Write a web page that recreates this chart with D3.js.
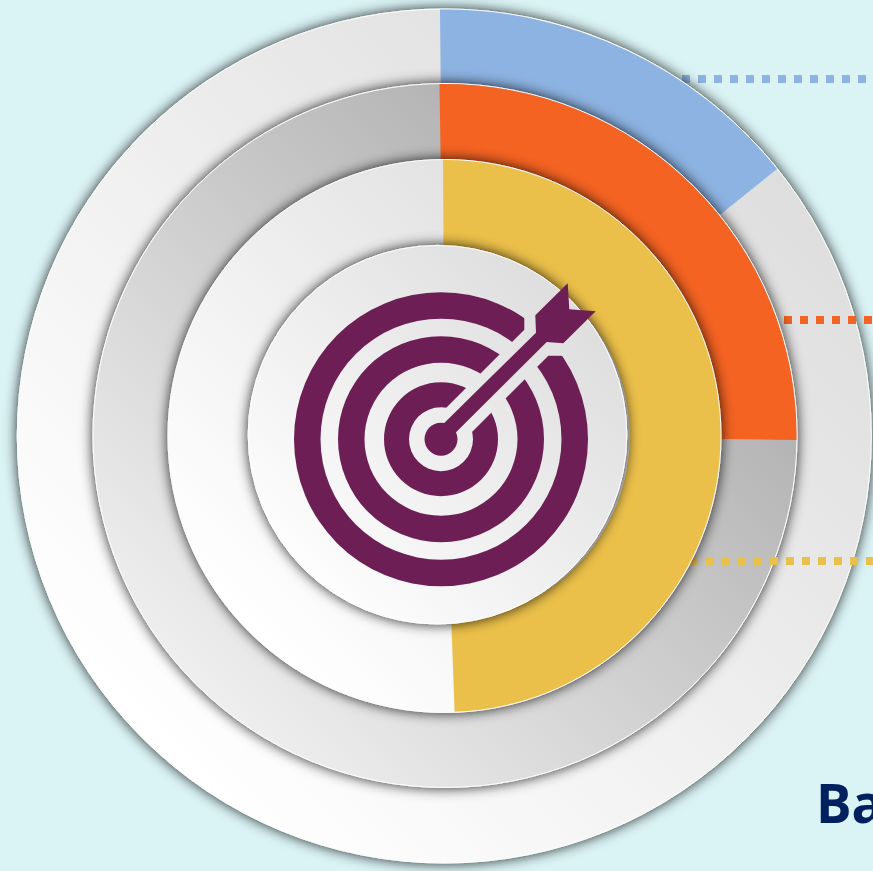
<!DOCTYPE html>
<html>
<head>
<meta charset="utf-8">
<script src="https://cdn.jsdelivr.net/npm/d3@7/dist/d3.min.js"></script>
<style>html,body{margin:0;padding:0;background:#daf3f5;overflow:hidden}svg{display:block}</style>
</head>
<body>
<svg id="chart" width="873" height="871"></svg>
<script>
const ringNames = ["outer", "middle", "inner"];
const ringValues = [14.4, 25.45, 49.5];
const ringColors = ["#8db3e2", "#f46322", "#ebc04a"];
const titleText = "Ba";

const svg = d3.select("#chart");
const defs = svg.append("defs");

const filter = defs.append("filter").attr("id", "shadow")
  .attr("x", "-10%").attr("y", "-10%").attr("width", "120%").attr("height", "120%");
filter.append("feDropShadow").attr("dx", 0).attr("dy", 0).attr("stdDeviation", 6.5)
  .attr("flood-color", "#000").attr("flood-opacity", 0.85);

function grad(id, c0, c1) {
  const g = defs.append("linearGradient").attr("id", id)
    .attr("x1", "85%").attr("y1", "15%").attr("x2", "15%").attr("y2", "85%");
  g.append("stop").attr("offset", "0%").attr("stop-color", c0);
  g.append("stop").attr("offset", "100%").attr("stop-color", c1);
}
grad("g0", "#dedede", "#ffffff");
grad("g1", "#aaaaaa", "#eeeeee");
grad("g2", "#dedede", "#ffffff");
grad("g3", "#dedede", "#fdfdfd");

const deg = d => d * Math.PI / 180;

const disks = [
  {cx: 444.3, cy: 436, r: 427, fill: "url(#g0)"},
  {cx: 445, cy: 435.5, r: 352, fill: "url(#g1)"},
  {cx: 444.5, cy: 436, r: 276.5, fill: "url(#g2)"},
  {cx: 437.5, cy: 434.7, r: 189.3, fill: "url(#g3)"}
];
const startDeg = [-0.58, -0.9, -0.3];
const leaderY = [79, 320, 561];
const leaderX = [682, 784, 690];

function drawDisk(d) {
  svg.append("circle").attr("cx", d.cx).attr("cy", d.cy).attr("r", d.r)
    .attr("fill", d.fill).attr("stroke", "#fff").attr("stroke-width", 1)
    .attr("filter", "url(#shadow)");
}

ringNames.forEach((name, i) => {
  svg.append("line").attr("class", "leader " + name)
    .attr("x1", leaderX[i]).attr("x2", 873)
    .attr("y1", leaderY[i]).attr("y2", leaderY[i])
    .attr("stroke", ringColors[i]).attr("stroke-width", 8)
    .attr("stroke-dasharray", "8 8");
  drawDisk(disks[i]);
  const pie = d3.pie().sort(null).value(v => v)
    .startAngle(deg(startDeg[i])).endAngle(deg(startDeg[i]) + 2 * Math.PI);
  const slice = pie([ringValues[i], 100 - ringValues[i]])[0];
  const arc = d3.arc().innerRadius(disks[i + 1].r - 4).outerRadius(disks[i].r - 0.5);
  svg.append("path").attr("class", "slice " + name)
    .attr("transform", `translate(${disks[i].cx},${disks[i].cy})`)
    .attr("d", arc(slice)).attr("fill", ringColors[i]);
});
drawDisk(disks[3]);

// target icon
const iconColor = "#6d1f55";
const ic = {x: 441, y: 439.2};
const mask = defs.append("mask").attr("id", "cut").attr("maskUnits", "userSpaceOnUse")
  .attr("x", 0).attr("y", 0).attr("width", 873).attr("height", 871);
mask.append("rect").attr("width", 873).attr("height", 871).attr("fill", "#fff");
mask.append("polygon").attr("fill", "#000")
  .attr("points", "430,424 524.3,329.7 524.3,300 600,300 600,356 548.3,355.7 448,456");
const iconRings = [[120.5, 147], [76.5, 103], [32, 57]];
const ringArc = d3.arc().startAngle(0).endAngle(2 * Math.PI);
const icon = svg.append("g").attr("class", "icon");
const ringsG = icon.append("g").attr("mask", "url(#cut)");
iconRings.forEach(([a, b]) => {
  ringsG.append("path").attr("transform", `translate(${ic.x},${ic.y})`)
    .attr("d", ringArc({innerRadius: a, outerRadius: b})).attr("fill", iconColor);
});
icon.append("circle").attr("cx", ic.x).attr("cy", ic.y).attr("r", 16.5).attr("fill", iconColor);
icon.append("polygon").attr("fill", iconColor)
  .attr("points", "444,423.3 536,332.7 535.3,315.3 567.7,283.3 569.3,309.3 595.7,311.3 563.3,343.3 546.7,342 455,433.3 445,442");

svg.append("text").attr("x", 816).attr("y", 823)
  .attr("font-family", "'Open Sans', sans-serif").attr("font-weight", 700)
  .attr("font-size", 53).attr("fill", "#002060").text(titleText);
</script>
</body>
</html>
